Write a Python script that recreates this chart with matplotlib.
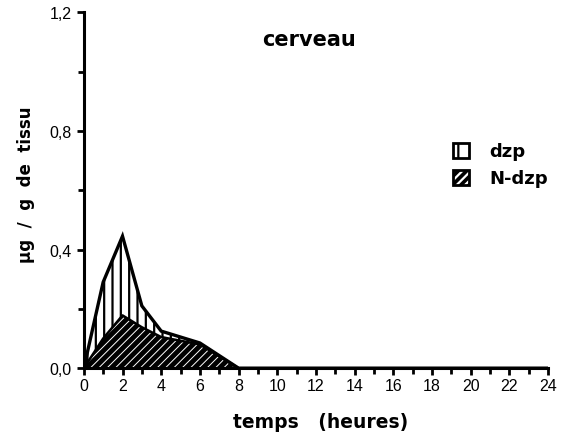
import matplotlib.pyplot as plt
from matplotlib.patches import Patch
from matplotlib.legend_handler import HandlerTuple
from matplotlib.ticker import MultipleLocator, FuncFormatter

plt.rcParams['font.family'] = ['Liberation Sans', 'DejaVu Sans']
plt.rcParams['hatch.linewidth'] = 1.6
bold = ['DejaVu Sans']

# time in hours
temps = [0, 1, 2, 3, 4, 6, 8, 24]
# concentrations, µg / g de tissu
dzp = [0.0, 0.29, 0.445, 0.21, 0.125, 0.085, 0.0, 0.0]
n_dzp = [0.0, 0.10, 0.178, 0.138, 0.105, 0.08, 0.0, 0.0]

fig = plt.figure(figsize=(5.74, 4.39), dpi=100)
ax = fig.add_axes([0.146, 0.159, 0.809, 0.811])

# dzp : white area with vertical hatching
ax.fill_between(temps, 0, dzp, facecolor='white', edgecolor='black',
                hatch='||', linewidth=0)
# N-dzp : black area with thin white diagonal hatching
with plt.rc_context({'hatch.linewidth': 0.7}):
    ax.fill_between(temps, 0, n_dzp, facecolor='black', edgecolor='white',
                    hatch='////', linewidth=0)
    h_n_fill = Patch(facecolor='black', edgecolor='white', hatch='////', linewidth=0)
ax.plot(temps, dzp, color='black', lw=2.4, solid_joinstyle='miter')
ax.plot(temps, n_dzp, color='black', lw=1.8)

ax.set_xlim(0, 24)
ax.set_ylim(0, 1.2)
ax.xaxis.set_major_locator(MultipleLocator(2))
ax.xaxis.set_minor_locator(MultipleLocator(1))
ax.yaxis.set_major_locator(MultipleLocator(0.4))
ax.yaxis.set_minor_locator(MultipleLocator(0.2))
ax.yaxis.set_major_formatter(FuncFormatter(lambda v, p: f"{v:.1f}".replace('.', ',')))

for s in ['top', 'right']:
    ax.spines[s].set_visible(False)
for s in ['left', 'bottom']:
    ax.spines[s].set_linewidth(2.2)
ax.tick_params(which='both', direction='out', width=2, labelsize=11.5, colors='black')
ax.tick_params(which='major', length=5)
ax.tick_params(which='minor', length=4)
ax.tick_params(axis='x', pad=2)

ax.set_xlabel('temps   (heures)', fontsize=13.5, fontweight='bold', family=bold)
ax.xaxis.set_label_coords(0.51, -0.122)
ax.set_ylabel('µg  /  g  de  tissu', fontsize=12, fontweight='bold', family=bold)
ax.yaxis.set_label_coords(-0.105, 0.517)
ax.text(0.486, 0.925, 'cerveau', transform=ax.transAxes, fontsize=15,
        fontweight='bold', ha='center', va='center', family=bold)

h_dzp = Patch(facecolor='white', edgecolor='black', hatch='|', linewidth=2)
h_n_edge = Patch(facecolor='none', edgecolor='black', linewidth=2)
leg = ax.legend([h_dzp, (h_n_fill, h_n_edge)], ['dzp', 'N-dzp'], loc='upper left',
                bbox_to_anchor=(0.76, 0.68), frameon=False, handlelength=0.9,
                handleheight=0.9, handletextpad=1.1, labelspacing=0.5,
                handler_map={tuple: HandlerTuple(ndivide=1)},
                prop={'weight': 'bold', 'size': 13, 'family': bold})

fig.savefig('out.png', dpi=100)
